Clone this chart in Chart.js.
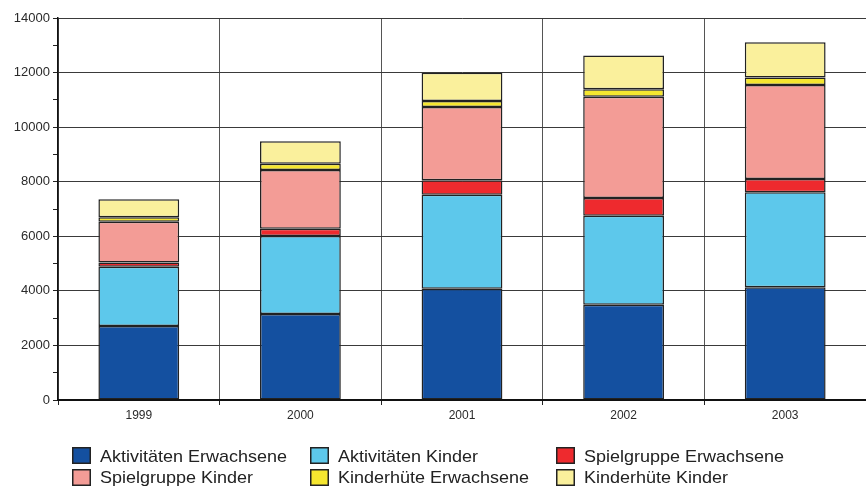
<!DOCTYPE html>
<html>
<head>
<meta charset="utf-8">
<script src="https://cdn.jsdelivr.net/npm/chart.js@4/dist/chart.umd.min.js"></script>
<style>
    html, body { margin: 0; padding: 0; background: #fff; }
    #wrap { width: 866px; height: 488px; position: relative; }
</style>
</head>
<body>
<div id="wrap"><canvas id="chart"></canvas></div>
<script>
const years = ["1999", "2000", "2001", "2002", "2003"];

const aktivitaetenErwachsene = [2710, 3150, 4080, 3490, 4130];
const aktivitaetenKinder = [2170, 2860, 3440, 3260, 3480];
const spielgruppeErwachsene = [160, 265, 530, 650, 490];
const spielgruppeKinder = [1490, 2150, 2690, 3710, 3440];
const kinderhueteErwachsene = [170, 230, 220, 280, 280];
const kinderhueteKinder = [660, 830, 1030, 1240, 1290];

const COLORS = {
    darkBlue: "#1450A0",
    lightBlue: "#5DC8EB",
    red: "#EE2A2E",
    pink: "#F39C96",
    yellow: "#F5E62F",
    lightYellow: "#FAF09C",
    border: "#222222",
    grid: "#3a3a3a",
    text: "#2a2a2a",
};

const FONT = "'Liberation Sans', Arial, sans-serif";

function makeSet(label, data, color) {
    return {
        label,
        data,
        backgroundColor: color,
        borderColor: COLORS.border,
        borderWidth: 1.5,
        borderSkipped: false,
        barPercentage: 0.5,
        categoryPercentage: 1,
    };
}

// legend in three fixed columns like the original
const gridLegend = {
    id: "gridLegend",
    afterDraw(chart) {
        const ctx = chart.ctx;
        const sets = chart.data.datasets;
        const boxX = [72, 310, 556];
        const textX = [100, 338, 584];
        const boxY = [447, 469];
        const baseY = [462, 483];
        ctx.save();
        ctx.font = "17px " + FONT;
        ctx.textBaseline = "alphabetic";
        const squeeze = 187 / ctx.measureText(sets[0].label).width;
        sets.forEach((ds, i) => {
            const col = i % 3;
            const row = Math.floor(i / 3);
            ctx.fillStyle = ds.backgroundColor;
            ctx.fillRect(boxX[col], boxY[row], 19, 17);
            ctx.strokeStyle = COLORS.border;
            ctx.lineWidth = 1.5;
            ctx.strokeRect(boxX[col] + 0.75, boxY[row] + 0.75, 17.5, 15.5);
            ctx.save();
            ctx.translate(textX[col], baseY[row]);
            ctx.scale(squeeze, 1);
            ctx.fillStyle = "#222";
            ctx.fillText(ds.label, 0, 0);
            ctx.restore();
        });
        ctx.restore();
    },
};

new Chart(document.getElementById("chart"), {
    type: "bar",
    data: {
        labels: years,
        datasets: [
            makeSet("Aktivitäten Erwachsene", aktivitaetenErwachsene, COLORS.darkBlue),
            makeSet("Aktivitäten Kinder", aktivitaetenKinder, COLORS.lightBlue),
            makeSet("Spielgruppe Erwachsene", spielgruppeErwachsene, COLORS.red),
            makeSet("Spielgruppe Kinder", spielgruppeKinder, COLORS.pink),
            makeSet("Kinderhüte Erwachsene", kinderhueteErwachsene, COLORS.yellow),
            makeSet("Kinderhüte Kinder", kinderhueteKinder, COLORS.lightYellow),
        ],
    },
    options: {
        responsive: true,
        maintainAspectRatio: false,
        animation: false,
        layout: { padding: { top: 18, right: 0, left: 0, bottom: 68 } },
        plugins: {
            legend: { display: false },
            tooltip: { enabled: false },
        },
        scales: {
            x: {
                stacked: true,
                offset: true,
                grid: {
                    offset: true,
                    color: "#555",
                    lineWidth: 1,
                    tickLength: 5,
                    tickColor: "#222",
                },
                border: { color: "#111", width: 2 },
                ticks: {
                    color: COLORS.text,
                    font: { family: FONT, size: 12 },
                    padding: 3,
                },
                afterFit(scale) { scale.height = 20; },
            },
            y: {
                stacked: true,
                min: 0,
                max: 14000,
                ticks: {
                    stepSize: 1000,
                    color: COLORS.text,
                    font: { family: FONT, size: 13 },
                    padding: 3,
                    callback(value) {
                        return value % 2000 === 0 ? value : "";
                    },
                },
                grid: {
                    color(ctx) {
                        if (!ctx.tick) return COLORS.grid;
                        return ctx.tick.value % 2000 === 0 ? COLORS.grid : "rgba(0,0,0,0)";
                    },
                    lineWidth: 1,
                    tickLength: 5,
                    tickColor: "#222",
                },
                border: { color: "#111", width: 1.5 },
                afterFit(scale) { scale.width = 58; },
            },
        },
    },
    plugins: [gridLegend],
});
</script>
</body>
</html>
